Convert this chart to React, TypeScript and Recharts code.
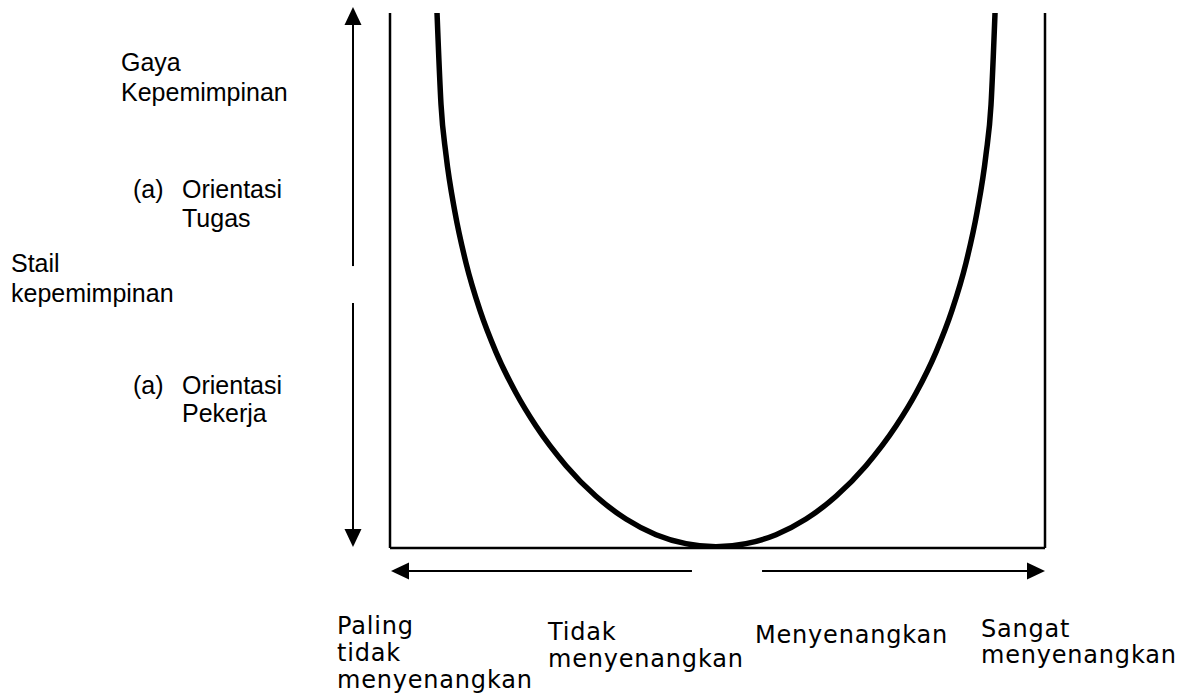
import React from 'react';
import { LineChart, Line, XAxis, YAxis, ReferenceLine, Customized } from 'recharts';

// Curve (U-shape) values, x: situation favourability (0-100), y: style (0-100)
const curveX = [7.18, 7.79, 8.55, 9.92, 11.6, 13.74, 16.18, 19.24, 22.29, 26.87, 31.45, 36.03, 40.61, 45.19, 49.77, 54.35, 58.93, 63.51, 68.09, 72.67, 77.25, 80.31, 83.36, 85.8, 87.94, 89.62, 90.99, 91.76, 92.37];
const curveY = [100, 82.87, 73.52, 62.75, 53.3, 44.4, 36.62, 28.96, 22.79, 15.39, 9.67, 5.41, 2.49, 0.81, 0.25, 0.81, 2.49, 5.41, 9.67, 15.39, 22.79, 28.96, 36.62, 44.4, 53.3, 62.75, 73.52, 82.87, 100];

// Arrows: from point to tip, in data units
const arrowFromX = [-5.65, -5.65, 46.1, 56.8];
const arrowFromY = [52.7, 45.8, -4.3, -4.3];
const arrowToX = [-5.65, -5.65, 0.15, 100];
const arrowToY = [101.1, 0.19, -4.3, -4.3];

// Left labels (Malay)
const leftLabels = ['Gaya', 'Kepemimpinan', '(a)', 'Orientasi', 'Tugas', 'Stail', 'kepemimpinan', '(a)', 'Orientasi', 'Pekerja'];
// Bottom category labels
const bottomLabels = [
  ['Paling', 'tidak', 'menyenangkan'],
  ['Tidak', 'menyenangkan'],
  ['Menyenangkan'],
  ['Sangat', 'menyenangkan'],
];

const data = curveX.map((x, i) => ({ x, y: curveY[i] }));

const ArrowShape = (props: any) => {
  const { x1, y1, x2, y2 } = props;
  const dx = x2 - x1;
  const dy = y2 - y1;
  const len = Math.sqrt(dx * dx + dy * dy) || 1;
  const ux = dx / len;
  const uy = dy / len;
  const hl = 18;
  const hw = 8.5;
  const bx = x2 - ux * hl;
  const by = y2 - uy * hl;
  const px = -uy;
  const py = ux;
  const pts = `${x2},${y2} ${bx + px * hw},${by + py * hw} ${bx - px * hw},${by - py * hw}`;
  return (
    <g>
      <line x1={x1} y1={y1} x2={bx + ux * 2} y2={by + uy * 2} stroke="#000" strokeWidth={2} />
      <polygon points={pts} fill="#000" />
    </g>
  );
};

const leftPos: [number, number][] = [
  [121, 71], [121, 101], [133, 198], [182, 198], [182, 227],
  [11, 272], [11, 302], [133, 394], [182, 394], [182, 422],
];
const bottomPos: [number, number, number][] = [
  [337, 634, 27],
  [548, 640, 27],
  [755, 643, 27],
  [981, 637, 26],
];

const Annotations = () => (
  <g>
    {leftLabels.map((t, i) => (
      <text key={'l' + i} x={leftPos[i][0]} y={leftPos[i][1]} fontFamily="'Liberation Sans', Arial, sans-serif" fontSize={25} fill="#000">
        {t}
      </text>
    ))}
    {bottomLabels.map((lines, i) =>
      lines.map((t, j) => (
        <text
          key={'b' + i + '-' + j}
          x={bottomPos[i][0]}
          y={bottomPos[i][1] + j * bottomPos[i][2]}
          fontFamily="'DejaVu Sans', sans-serif"
          fontSize={24}
          letterSpacing={0.8}
          fill="#000"
        >
          {t}
        </text>
      ))
    )}
  </g>
);

export default function App() {
  return (
    <div style={{ position: 'absolute', left: 0, top: 0, width: 1189, height: 696, background: '#fff' }}>
      <LineChart width={1189} height={696} data={data} margin={{ top: 13, right: 144, bottom: 148, left: 390 }}>
        <XAxis type="number" dataKey="x" domain={[0, 100]} hide allowDataOverflow />
        <YAxis type="number" domain={[0, 100]} hide allowDataOverflow />
        <ReferenceLine x={0} stroke="#000" strokeWidth={2.5} />
        <ReferenceLine x={100} stroke="#000" strokeWidth={2.5} />
        <ReferenceLine y={0} stroke="#000" strokeWidth={2.5} />
        {arrowFromX.map((fx, i) => (
          <ReferenceLine
            key={'a' + i}
            ifOverflow="visible"
            segment={[{ x: fx, y: arrowFromY[i] }, { x: arrowToX[i], y: arrowToY[i] }]}
            shape={ArrowShape}
          />
        ))}
        <Line
          type="monotone"
          dataKey="y"
          stroke="#000"
          strokeWidth={5.5}
          dot={false}
          activeDot={false}
          isAnimationActive={false}
        />
        <Customized component={Annotations} />
      </LineChart>
    </div>
  );
}
